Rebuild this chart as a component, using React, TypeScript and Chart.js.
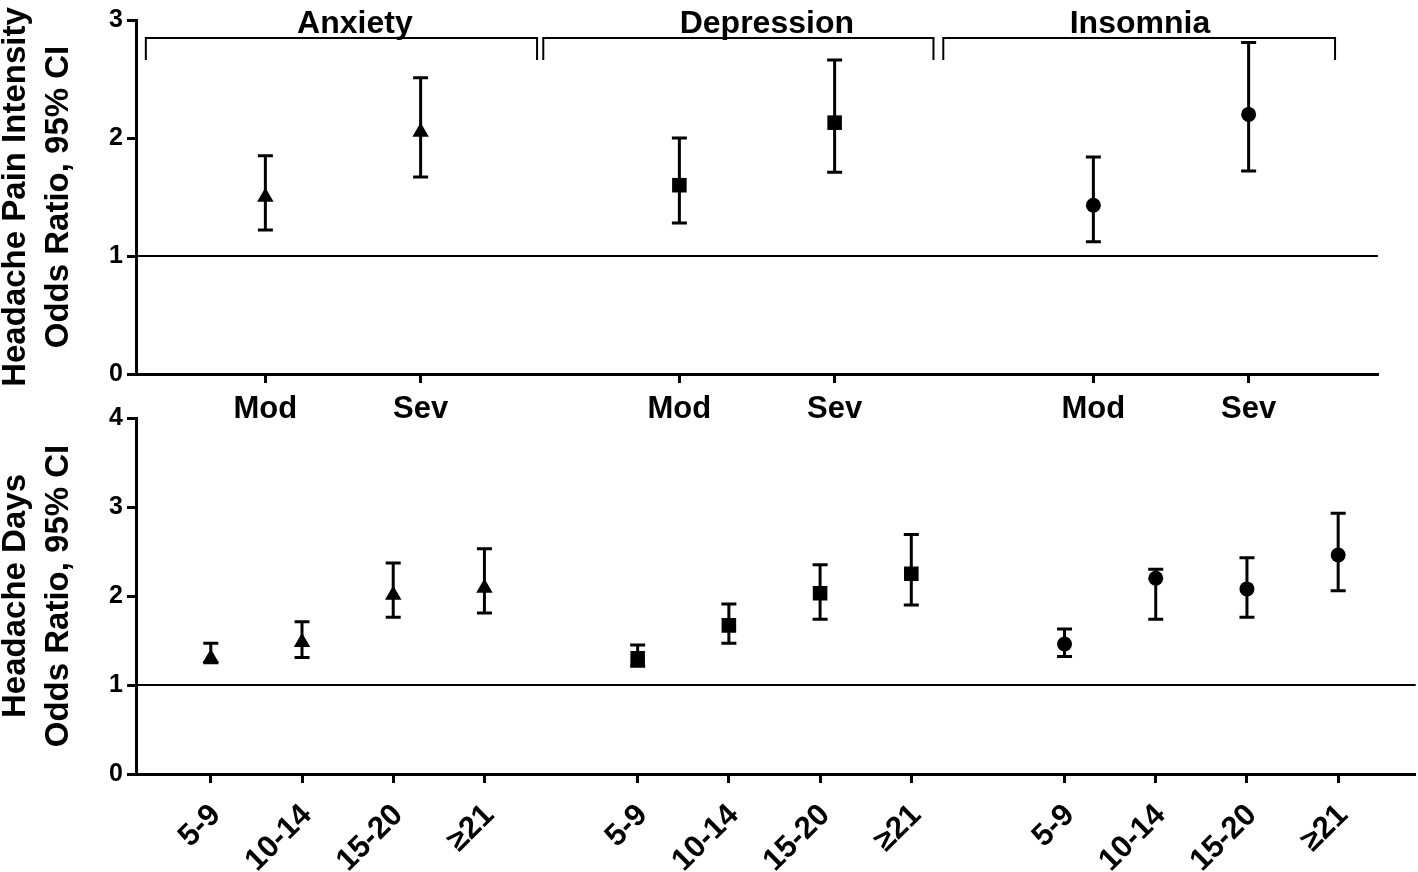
import React, { useEffect, useRef } from "react";
import { Chart, registerables } from "chart.js";

Chart.register(...registerables);

// ---------- data ----------
const groups = ["Anxiety", "Depression", "Insomnia"];
const severityLevels = ["Mod", "Sev"];
const dayLevels = ["5-9", "10-14", "15-20", "≥21"];
const groupMarkers = ["triangle", "rect", "circle"];

// Headache pain intensity: odds ratio and 95% CI, per group [Mod, Sev]
const intensityOR = [
  [1.5, 2.05],
  [1.6, 2.13],
  [1.43, 2.2],
];
const intensityLow = [
  [1.22, 1.67],
  [1.28, 1.71],
  [1.12, 1.72],
];
const intensityHigh = [
  [1.85, 2.51],
  [2.0, 2.66],
  [1.84, 2.81],
];

// Headache days: odds ratio and 95% CI, per group [5-9, 10-14, 15-20, >=21]
const daysOR = [
  [1.3, 1.48, 2.01, 2.09],
  [1.3, 1.67, 2.03, 2.25],
  [1.46, 2.2, 2.08, 2.46],
];
const daysLow = [
  [1.25, 1.31, 1.76, 1.81],
  [1.21, 1.47, 1.74, 1.9],
  [1.32, 1.74, 1.76, 2.06],
];
const daysHigh = [
  [1.47, 1.71, 2.37, 2.53],
  [1.45, 1.91, 2.35, 2.69],
  [1.63, 2.3, 2.43, 2.93],
];

const intensityTicks = [0, 1, 2, 3];
const daysTicks = [0, 1, 2, 3, 4];
const referenceOR = 1;

const intensityTitle = ["Headache Pain Intensity", "Odds Ratio, 95% CI"];
const daysTitle = ["Headache Days", "Odds Ratio, 95% CI"];

// ---------- layout ----------
const FONT = "'Liberation Sans', Arial, Helvetica, sans-serif";
const AXIS_LEFT = 136;
const TOP_MAX = 24;
const BOT_MAX = 14.03;
const topPos = (g: number, l: number) => g * 8 + 2.5 + l * 3;
const botPos = (g: number, l: number) => 0.82 + g * 4.68 + l;
const markerRadius = [9.5, 10.3, 7.5];
const bracketSpans = [
  [0.19, 7.75],
  [7.87, 15.41],
  [15.6, 23.17],
];
const groupLabelCenters = [4.23, 12.19, 19.4];

function yScale(max: number, ticks: number[]) {
  return {
    type: "linear",
    min: 0,
    max,
    afterBuildTicks: (s: any) => {
      s.ticks = ticks.map((v) => ({ value: v }));
    },
    afterFit: (s: any) => {
      s.width = AXIS_LEFT;
      s.paddingTop = 0;
      s.paddingBottom = 0;
    },
    ticks: {
      color: "#000",
      font: { family: FONT, size: 25, weight: "bold" },
      padding: 4,
    },
    grid: {
      drawOnChartArea: false,
      drawTicks: true,
      tickLength: 9,
      tickWidth: 3,
      tickColor: "#000",
    },
    border: { display: true, color: "#000", width: 3 },
  };
}

function xScale(
  max: number,
  positions: number[],
  labels: string[],
  rotation: number,
  height: number,
  padding: number,
  fontSize: number,
  labelOffset: number
) {
  return {
    type: "linear",
    min: 0,
    max,
    afterBuildTicks: (s: any) => {
      s.ticks = positions.map((v) => ({ value: v }));
    },
    afterFit: (s: any) => {
      s.height = height;
      s.paddingLeft = 0;
      s.paddingRight = 0;
    },
    ticks: {
      autoSkip: false,
      minRotation: rotation,
      maxRotation: rotation,
      padding,
      labelOffset,
      color: "#000",
      font: { family: FONT, size: fontSize, weight: "bold" },
      callback: (_v: any, i: number) => labels[i],
    },
    grid: {
      drawOnChartArea: false,
      drawTicks: true,
      tickLength: 9,
      tickWidth: 3,
      tickColor: "#000",
    },
    border: { display: true, color: "#000", width: 3 },
  };
}

function makePlugin(title: string[], withGroups: boolean) {
  return {
    id: "orDecor",
    beforeDatasetsDraw(chart: any) {
      const { ctx, chartArea } = chart;
      const x = chart.scales.x;
      const y = chart.scales.y;
      ctx.save();
      ctx.strokeStyle = "#000";
      // reference line
      const yr = y.getPixelForValue(referenceOR);
      ctx.lineWidth = 2;
      ctx.beginPath();
      ctx.moveTo(chartArea.left, yr);
      ctx.lineTo(chartArea.right, yr);
      ctx.stroke();
      // error bars
      ctx.lineWidth = 3;
      chart.data.datasets.forEach((ds: any) => {
        ds.data.forEach((pt: any) => {
          const px = x.getPixelForValue(pt.x);
          const lo = y.getPixelForValue(pt.lo);
          const hi = y.getPixelForValue(pt.hi);
          ctx.beginPath();
          ctx.moveTo(px, lo);
          ctx.lineTo(px, hi);
          ctx.moveTo(px - 7.5, lo);
          ctx.lineTo(px + 7.5, lo);
          ctx.moveTo(px - 7.5, hi);
          ctx.lineTo(px + 7.5, hi);
          ctx.stroke();
        });
      });
      ctx.restore();
    },
    afterDraw(chart: any) {
      const { ctx, chartArea } = chart;
      const x = chart.scales.x;
      ctx.save();
      ctx.fillStyle = "#000";
      ctx.strokeStyle = "#000";
      // y title
      ctx.font = `bold 33px ${FONT}`;
      ctx.textAlign = "center";
      ctx.textBaseline = "alphabetic";
      const cy = (chartArea.top + chartArea.bottom) / 2;
      const baselines = [25, 68];
      title.forEach((t, i) => {
        ctx.save();
        ctx.translate(baselines[i], cy);
        ctx.rotate(-Math.PI / 2);
        ctx.fillText(t, 0, 0);
        ctx.restore();
      });
      if (withGroups) {
        ctx.lineWidth = 2;
        bracketSpans.forEach(([a, b]) => {
          const xa = x.getPixelForValue(a);
          const xb = x.getPixelForValue(b);
          ctx.beginPath();
          ctx.moveTo(xa, 60);
          ctx.lineTo(xa, 38);
          ctx.lineTo(xb, 38);
          ctx.lineTo(xb, 60);
          ctx.stroke();
        });
        ctx.font = `bold 32px ${FONT}`;
        groups.forEach((g, i) => {
          ctx.fillText(g, x.getPixelForValue(groupLabelCenters[i]), 33);
        });
      }
      ctx.restore();
    },
  };
}

function baseOptions(padding: any, xs: any, ys: any) {
  return {
    animation: false,
    responsive: false,
    maintainAspectRatio: false,
    devicePixelRatio: 1,
    events: [],
    layout: { padding },
    plugins: { legend: { display: false }, tooltip: { enabled: false } },
    scales: { x: xs, y: ys },
  };
}

export default function App() {
  const topRef = useRef<HTMLCanvasElement>(null);
  const botRef = useRef<HTMLCanvasElement>(null);

  useEffect(() => {
    const topPositions: number[] = [];
    const topLabels: string[] = [];
    groups.forEach((_, g) =>
      severityLevels.forEach((lab, l) => {
        topPositions.push(topPos(g, l));
        topLabels.push(lab);
      })
    );
    const botPositions: number[] = [];
    const botLabels: string[] = [];
    groups.forEach((_, g) =>
      dayLevels.forEach((lab, l) => {
        botPositions.push(botPos(g, l));
        botLabels.push(lab);
      })
    );

    const topDatasets = groups.map((name, g) => ({
      label: name,
      data: severityLevels.map((_, l) => ({
        x: topPos(g, l),
        y: intensityOR[g][l],
        lo: intensityLow[g][l],
        hi: intensityHigh[g][l],
      })),
      pointStyle: groupMarkers[g],
      pointRadius: markerRadius[g],
      backgroundColor: "#000",
      borderColor: "#000",
      borderWidth: 0,
      showLine: false,
    }));
    const botDatasets = groups.map((name, g) => ({
      label: name,
      data: dayLevels.map((_, l) => ({
        x: botPos(g, l),
        y: daysOR[g][l],
        lo: daysLow[g][l],
        hi: daysHigh[g][l],
      })),
      pointStyle: groupMarkers[g],
      pointRadius: markerRadius[g],
      backgroundColor: "#000",
      borderColor: "#000",
      borderWidth: 0,
      showLine: false,
    }));

    const c1 = new Chart(topRef.current as HTMLCanvasElement, {
      type: "scatter",
      data: { datasets: topDatasets as any },
      options: baseOptions(
        { top: 20, right: 40, left: 0, bottom: 0 },
        xScale(TOP_MAX, topPositions, topLabels, 0, 66, 8, 31, 0),
        yScale(3, intensityTicks)
      ) as any,
      plugins: [makePlugin(intensityTitle, true) as any],
    });
    const c2 = new Chart(botRef.current as HTMLCanvasElement, {
      type: "scatter",
      data: { datasets: botDatasets as any },
      options: baseOptions(
        { top: 18, right: 0, left: 0, bottom: 0 },
        xScale(BOT_MAX, botPositions, botLabels, 45, 98, 14, 31, 5),
        yScale(4, daysTicks)
      ) as any,
      plugins: [makePlugin(daysTitle, false) as any],
    });
    return () => {
      c1.destroy();
      c2.destroy();
    };
  }, []);

  return (
    <div
      style={{
        position: "absolute",
        left: 0,
        top: 0,
        width: 1418,
        height: 872,
        background: "#fff",
        overflow: "hidden",
      }}
    >
      <canvas
        ref={topRef}
        width={1418}
        height={440}
        style={{ position: "absolute", left: 0, top: 0 }}
      />
      <canvas
        ref={botRef}
        width={1426}
        height={472}
        style={{ position: "absolute", left: 0, top: 400 }}
      />
    </div>
  );
}
